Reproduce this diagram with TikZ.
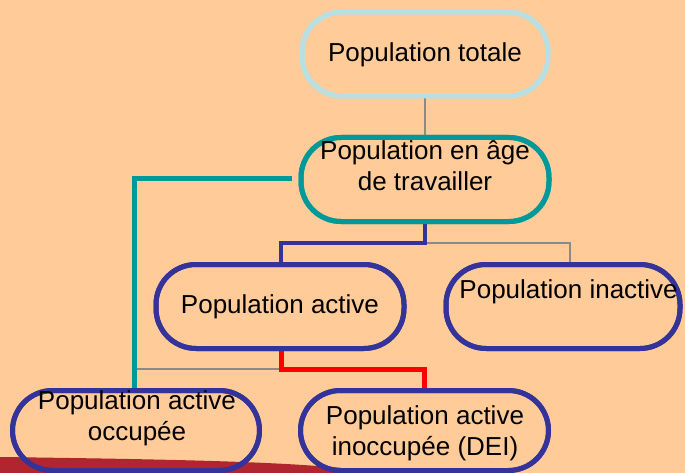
\documentclass[tikz,border=0pt]{standalone}
\usepackage{fontspec}
\setmainfont{Liberation Sans}
\definecolor{bgpeach}{HTML}{FFCB98}
\definecolor{swoosh}{HTML}{B0252F}
\definecolor{lightblue}{HTML}{B8E0E3}
\definecolor{tealc}{HTML}{009999}
\definecolor{navyc}{HTML}{333399}
\definecolor{redc}{HTML}{FF0000}
\definecolor{grayc}{HTML}{8A8A8A}
\tikzset{
  pill/.style={draw, line width=5pt, rounded corners=40pt, minimum height=84pt, minimum width=247pt, inner sep=0pt},
  lbl/.style={font=\fontsize{26}{31}\selectfont, align=center, text=black, inner sep=0pt},
  thinlink/.style={draw=grayc, line width=2pt},
  tealink/.style={draw=tealc, line width=5pt},
  navylink/.style={draw=navyc, line width=4.5pt},
  redlink/.style={draw=redc, line width=5pt},
}
\begin{document}
\begin{tikzpicture}[x=1pt, y=-1pt]
\useasboundingbox (0,0) rectangle (685,473);
\fill[bgpeach] (0,0) rectangle (685,473);
% bottom swoosh
\fill[swoosh] (0,457) .. controls (150,459) and (260,461) .. (330,467)
  .. controls (360,470) and (390,471) .. (420,473) -- (0,473) -- cycle;

% boxes (shapes only, text placed separately)
\node[pill, draw=lightblue, minimum width=246pt, minimum height=84pt] (n1) at (425,54) {};
\node[pill, draw=tealc, minimum width=248pt, minimum height=84pt] (n2) at (425,179.5) {};
\node[pill, draw=navyc, minimum width=248pt, minimum height=84pt] (na) at (280,306.5) {};
\node[pill, draw=navyc, minimum width=234pt, minimum height=84pt] (ni) at (563,306.5) {};
\node[pill, draw=navyc, minimum width=247pt, minimum height=80pt] (no) at (136,430.5) {};
\node[pill, draw=navyc, minimum width=248pt, minimum height=80pt] (nd) at (424.5,430.5) {};

% junction points
\coordinate (j1) at (425,243);
\coordinate (j2) at (281,369);

% connectors
\draw[thinlink] (n1.south) -- (n2.north);
\draw[thinlink] (j1) -| ([xshift=7pt]ni.north);
\draw[thinlink] (j2) -| ([xshift=-2pt]no.north);
\draw[tealink] ([xshift=-6.5pt,yshift=1pt]n2.west) -| ([xshift=-2pt]no.north);
\draw[navylink] (n2.south) -- (j1) -| ([xshift=1pt]na.north);
\draw[redlink] ([xshift=1pt]na.south) -- (j2) -| (nd.north);

% redraw box outlines on top of connectors
\node[pill, draw=lightblue, minimum width=246pt, minimum height=84pt] at (n1) {};
\node[pill, draw=tealc, minimum width=248pt, minimum height=84pt] at (n2) {};
\node[pill, draw=navyc, minimum width=248pt, minimum height=84pt] at (na) {};
\node[pill, draw=navyc, minimum width=234pt, minimum height=84pt] at (ni) {};
\node[pill, draw=navyc, minimum width=247pt, minimum height=80pt] at (no) {};
\node[pill, draw=navyc, minimum width=248pt, minimum height=80pt] at (nd) {};

% texts
\node[lbl] (t1) at (425,55) {Population totale};
\node[lbl] (t2) at (425,166) {Population en âge\\de travailler};
\node[lbl] (ta) at (280,307) {Population active};
\node[lbl] (ti) at (568.6,292) {Population inactive};
\node[lbl] (to) at (137,418.5) {Population active\\occupée};
\node[lbl] (td) at (425,433.5) {Population active\\inoccupée (DEI)};
\end{tikzpicture}
\end{document}
